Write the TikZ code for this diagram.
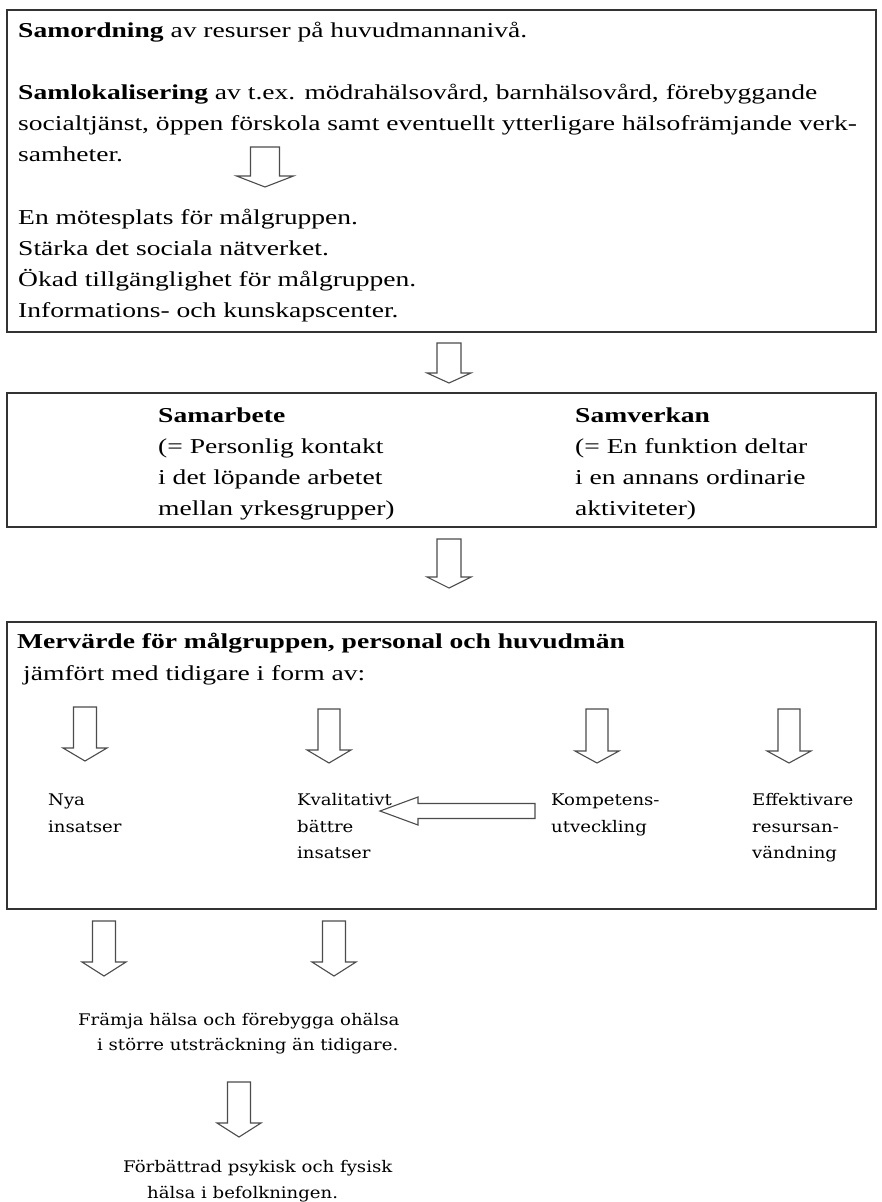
\documentclass[tikz,border=0pt]{standalone}
\usepackage{fontspec}
\setmainfont{Liberation Serif}[FakeStretch=1.3]
\newfontfamily\itemserif{DejaVu Serif}[FakeStretch=1.13]
\tikzset{
  frame/.style={draw=black!80, line width=1.8pt},
  blockarrow/.style={draw=black!70, line width=1.1pt, fill=white, line join=miter},
  bigtext/.style={anchor=base west, inner sep=0pt, font=\fontsize{21.2}{31}\selectfont},
  itemtext/.style={anchor=base west, inner sep=0pt, font=\itemserif\fontsize{16}{26}\selectfont},
}
% down block arrow: name, cx, ytop, yhead, ytip, shaft half, head half
\newcommand\DownBlock[7]{%
  \draw[blockarrow] (#2-#6,#3) -- (#2+#6,#3) -- (#2+#6,#4) -- (#2+#7,#4)
    -- (#2,#5) coordinate (#1tip) -- (#2-#7,#4) -- (#2-#6,#4) -- cycle;
  \coordinate (#1top) at (#2,#3);
}
\begin{document}
\begin{tikzpicture}[x=1pt,y=-1pt]
\useasboundingbox (0,0) rectangle (881,1202);
\fill[white] (0,0) rectangle (881,1202);

% Box 1
\draw[frame] (7,10) rectangle (876,332);
\node[bigtext] (l1) at (18,37) {\textbf{Samordning} av resurser på huvudmannanivå.};
\node[bigtext] (l2) at (18,99.4) {\textbf{Samlokalisering} av t.ex. mödrahälsovård, barnhälsovård, förebyggande};
\node[bigtext] (l3) at (18,130.6) {socialtjänst, öppen förskola samt eventuellt ytterligare hälsofrämjande verk-};
\node[bigtext] (l4) at (18,161.8) {samheter.};
\DownBlock{a0}{265}{147}{176}{187}{14.5}{28.5}
\node[bigtext] (l5) at (18,224.2) {En mötesplats för målgruppen.};
\node[bigtext] (l6) at (18,255.4) {Stärka det sociala nätverket.};
\node[bigtext] (l7) at (18,286.6) {Ökad tillgänglighet för målgruppen.};
\node[bigtext] (l8) at (18,317.8) {Informations- och kunskapscenter.};

\DownBlock{a1}{449}{343}{373}{383}{12}{22}

% Box 2
\draw[frame] (7,393) rectangle (876,527);
\node[bigtext] (s1) at (158,422) {\textbf{Samarbete}};
\node[bigtext] (s2) at (158,453) {(= Personlig kontakt};
\node[bigtext] (s3) at (158,484) {i det löpande arbetet};
\node[bigtext] (s4) at (158,515) {mellan yrkesgrupper)};
\node[bigtext] (v1) at (575,422) {\textbf{Samverkan}};
\node[bigtext] (v2) at (575,453) {(= En funktion deltar};
\node[bigtext] (v3) at (575,484) {i en annans ordinarie};
\node[bigtext] (v4) at (575,515) {aktiviteter)};

\DownBlock{a2}{449}{539}{577}{588}{12}{22}

% Box 3
\draw[frame] (7,622) rectangle (876,909);
\node[bigtext] (m1) at (17,648) {\textbf{Mervärde för målgruppen, personal och huvudmän}};
\node[bigtext] (m2) at (23,680) {jämfört med tidigare i form av:};

\DownBlock{b1}{85}{707}{748}{761}{11.5}{22}
\DownBlock{b2}{329}{709}{750}{763}{11}{22}
\DownBlock{b3}{597}{709}{751}{763}{11}{22}
\DownBlock{b4}{789}{709}{751}{763}{11}{22}

\node[itemtext] (n1) at (48,805) {Nya};
\node[itemtext] (n2) at (48,832) {insatser};
\node[itemtext] (k1) at (297,805) {Kvalitativt};
\node[itemtext] (k2) at (297,832) {bättre};
\node[itemtext] (k3) at (297,858) {insatser};
\node[itemtext] (c1) at (551,805) {Kompetens-};
\node[itemtext] (c2) at (551,832) {utveckling};
\node[itemtext] (e1) at (752,805) {Effektivare};
\node[itemtext] (e2) at (752,832) {resursan-};
\node[itemtext] (e3) at (752,858) {vändning};

% horizontal block arrow from Kompetens- to Kvalitativt
\draw[blockarrow] (535,803.5) -- (418,803.5) -- (418,797) -- (380,811) coordinate (htip)
  -- (418,825) -- (418,818.5) -- (535,818.5) -- cycle;

\DownBlock{c1a}{104}{921}{962}{976}{11.5}{22}
\DownBlock{c2a}{334}{921}{962}{976}{11.5}{22}

\node[itemtext] (f1) at (78,1025) {Främja hälsa och förebygga ohälsa};
\node[itemtext] (f2) at (97,1050) {i större utsträckning än tidigare.};

\DownBlock{d1}{239}{1082}{1123}{1137}{11.5}{22}

\node[itemtext] (g1) at (123,1172) {Förbättrad psykisk och fysisk};
\node[itemtext] (g2) at (147,1198) {hälsa i befolkningen.};
\end{tikzpicture}
\end{document}
